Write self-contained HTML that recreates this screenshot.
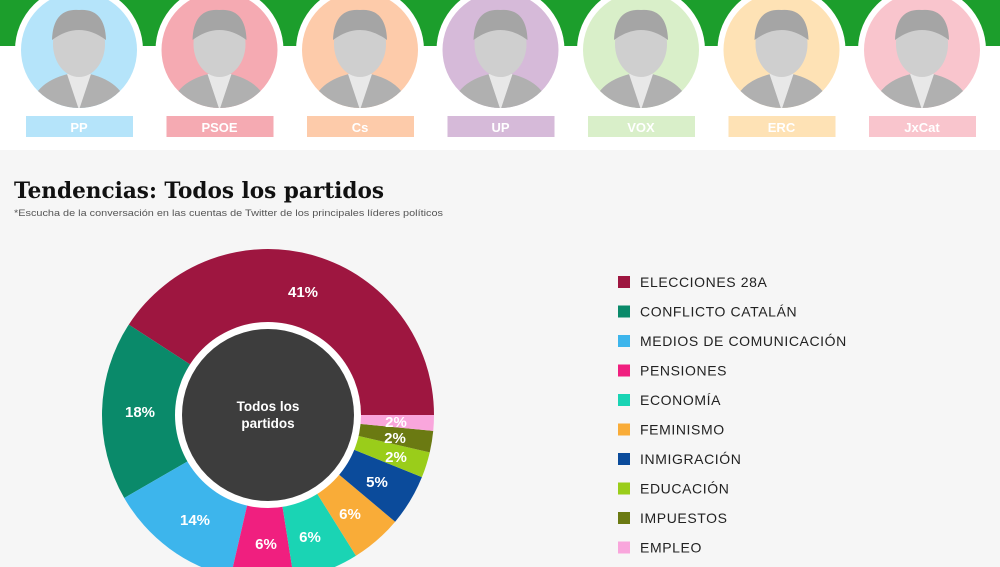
<!DOCTYPE html>
<html><head><meta charset="utf-8"><style>
body{margin:0;width:1000px;height:567px;overflow:hidden;background:#f6f6f6;font-family:"Liberation Sans",sans-serif}
</style></head><body>
<svg id="s" width="1000" height="567" xmlns="http://www.w3.org/2000/svg" style="display:block">
<rect x="0" y="0" width="1000" height="150" fill="#fff"/>
<rect x="0" y="0" width="1000" height="46" fill="#1c9e2c"/>
<g id="heads"></g>
<text x="14" y="198" font-family="'DejaVu Serif',serif" font-weight="bold" font-size="22" fill="#111" textLength="370" lengthAdjust="spacingAndGlyphs">Tendencias: Todos los partidos</text>
<text x="14" y="216" font-size="9.5" fill="#555" textLength="429" lengthAdjust="spacingAndGlyphs">*Escucha de la conversación en las cuentas de Twitter de los principales líderes políticos</text>
<g id="pie"></g>
<circle cx="268" cy="415" r="93" fill="#fff"/>
<circle cx="268" cy="415" r="86" fill="#3d3d3d"/>
<text x="268" y="411" text-anchor="middle" font-size="13.5" font-weight="bold" fill="#fff">Todos los</text>
<text x="268" y="428" text-anchor="middle" font-size="13.5" font-weight="bold" fill="#fff">partidos</text>
<g id="leg" font-size="14" fill="#222" letter-spacing="0.6"></g>
</svg>
<script>
var NS="http://www.w3.org/2000/svg",s=document.getElementById('s');
function el(p,t,a,txt){var e=document.createElementNS(NS,t);for(var k in a)e.setAttribute(k,a[k]);if(txt)e.textContent=txt;p.appendChild(e);return e;}
var H=document.getElementById('heads');
var heads=[["PP","#b5e4fa"],["PSOE","#f5aab2"],["Cs","#fdcbaa"],["UP","#d6bad9"],["VOX","#d9efc9"],["ERC","#fee2b5"],["JxCat","#f9c5cd"]];
var defs=el(s,'defs',{});
heads.forEach(function(h,i){var cx=79+i*140.5;
var cp=el(defs,'clipPath',{id:'c'+i});el(cp,'circle',{cx:cx,cy:50,r:58});
el(H,'circle',{cx:cx,cy:50,r:64,fill:'#fff'});
el(H,'circle',{cx:cx,cy:50,r:58,fill:h[1]});
var g=el(H,'g',{'clip-path':'url(#c'+i+')'});
el(g,'path',{d:'M'+(cx-50)+' 112 Q'+(cx-45)+' 78 '+cx+' 72 Q'+(cx+45)+' 78 '+(cx+50)+' 112Z',fill:'#b0b0b0'});
el(g,'path',{d:'M'+(cx-12)+' 74 L'+cx+' 110 L'+(cx+12)+' 74Z',fill:'#e8e8e8'});
el(g,'ellipse',{cx:cx,cy:44,rx:26,ry:33,fill:'#cfcfcf'});
el(g,'path',{d:'M'+(cx-27)+' 40 Q'+(cx-26)+' 8 '+cx+' 10 Q'+(cx+26)+' 8 '+(cx+27)+' 40 Q'+cx+' 20 '+(cx-27)+' 40Z',fill:'#a5a5a5'});
el(H,'rect',{x:cx-53,y:116,width:107,height:21,fill:h[1]});
el(H,'text',{x:cx,y:132,'text-anchor':'middle','font-size':13,'font-weight':'bold',fill:'#fff'},h[0]);
});
var P=document.getElementById('pie'),cx=268,cy=415,R=166;
var sl=[[0,147,"#9e1640"],[147,210,"#0a8a6a"],[210,257,"#3db5ec"],[257,279,"#f01f7f"],[279,302,"#1ad4b4"],[302,320,"#f9ac38"],[320,338,"#0b4b9b"],[338,347,"#9acd1a"],[347,354.5,"#6b7a12"],[354.5,360,"#f9a6dc"]];
function pt(a){a=a*Math.PI/180;return [cx+R*Math.cos(a),cy-R*Math.sin(a)];}
sl.forEach(function(q){var a=pt(q[0]),b=pt(q[1]);var big=(q[1]-q[0])>180?1:0;
el(P,'path',{d:'M'+cx+' '+cy+'L'+a[0]+' '+a[1]+'A'+R+' '+R+' 0 '+big+' 0 '+b[0]+' '+b[1]+'Z',fill:q[2]});});
var labs=[[303,297,"41%"],[140,417,"18%"],[195,525,"14%"],[266,549,"6%"],[310,542,"6%"],[350,519,"6%"],[377,487,"5%"],[396,462,"2%"],[395,443,"2%"],[396,427,"2%"]];
labs.forEach(function(l){el(P,'text',{x:l[0],y:l[1],'text-anchor':'middle','font-size':15,'font-weight':'bold',fill:'#fff'},l[2]);});
var L=document.getElementById('leg');
var items=["ELECCIONES 28A","CONFLICTO CATALÁN","MEDIOS DE COMUNICACIÓN","PENSIONES","ECONOMÍA","FEMINISMO","INMIGRACIÓN","EDUCACIÓN","IMPUESTOS","EMPLEO"];
items.forEach(function(t,i){var y=282+i*29.5;
el(L,'rect',{x:618,y:y-6,width:12,height:12,fill:sl[i][2]});
el(L,'text',{x:640,y:y+5},t);});
</script>
</body></html>
